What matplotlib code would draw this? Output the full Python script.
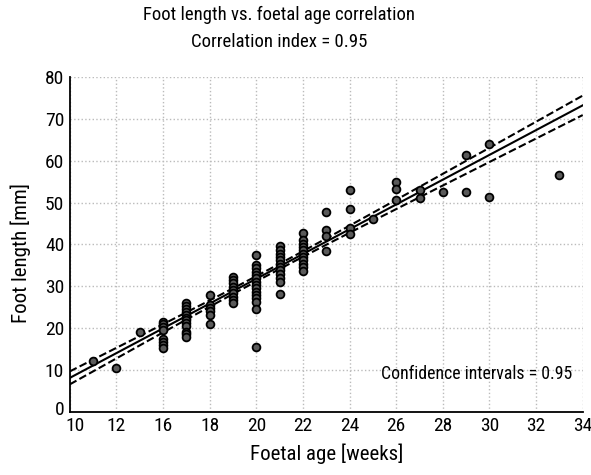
import numpy as np
import matplotlib
matplotlib.use('Agg')
import matplotlib.pyplot as plt
from matplotlib import font_manager
from matplotlib.transforms import ScaledTranslation

# foetal age (weeks, on the plot's own linear scale) and foot length (mm)
age_14 = [21.5, 21.0, 20.2, 19.5, 17.5, 16.8, 16.0, 15.3]
age_15 = [26.0, 25.3, 24.6, 23.9, 23.1, 22.5, 21.9, 21.3, 20.6, 19.1, 18.5, 17.9]
age_16 = [28.0, 25.5, 24.8, 24.0, 23.2, 21.0]
age_17 = [32.3, 31.5, 30.7, 29.9, 29.1, 28.3, 27.5, 26.7, 25.9]
age_18 = [37.5, 35.1, 34.3, 33.5, 32.7, 31.9, 31.1, 30.3, 29.5, 28.7, 27.9,
          27.1, 26.3, 24.5, 15.4]
age_19 = [39.5, 38.7, 37.8, 37.0, 36.2, 35.4, 34.6, 33.8, 33.0, 32.0, 31.0, 28.2]
age_20 = [42.8, 41.0, 40.2, 39.4, 38.6, 37.8, 37.0, 36.2, 35.4, 34.5, 33.7]
age_21 = [47.8, 43.5, 42.0, 38.4]
age_22 = [52.9, 48.4, 43.9, 42.5]
age_24 = [54.8, 53.3, 50.6]

weeks = ([11, 12, 13] + [14] * len(age_14) + [15] * len(age_15)
         + [16] * len(age_16) + [17] * len(age_17) + [18] * len(age_18)
         + [19] * len(age_19) + [20] * len(age_20) + [21] * len(age_21)
         + [22] * len(age_22) + [23] + [24] * len(age_24)
         + [25, 25, 26, 27, 27, 28, 28, 31])
foot_mm = ([12.2, 10.4, 19.0] + age_14 + age_15 + age_16 + age_17 + age_18
           + age_19 + age_20 + age_21 + age_22 + [46.1] + age_24
           + [52.9, 51.0, 52.4, 61.4, 52.4, 64.0, 51.4, 56.5])

# regression line and half-width of the band at the mean, as drawn in the original
fit_intercept = -21.5
fit_slope = 2.96
ci_at_mean = 0.62

xtick_pos = [10, 12, 14, 16, 18, 20, 22, 24, 26, 28, 30, 32]
xtick_labels = ['10', '12', '16', '18', '20', '22', '24', '26', '28', '30', '32', '34']
ytick_pos = [0, 10, 20, 30, 40, 50, 60, 70, 80]

names = {f.name for f in font_manager.fontManager.ttflist}
narrow = [f for f in ['Liberation Sans Narrow', 'Roboto Condensed', 'Open Sans Condensed']
          if f in names]
plt.rcParams['font.family'] = narrow + ['DejaVu Sans']
plt.rcParams['font.stretch'] = 'condensed'
plt.rcParams['font.size'] = 13

x = np.array(weeks, dtype=float)
y = np.array(foot_mm)
n = len(x)
sxx = np.sum((x - x.mean()) ** 2)

xl = np.linspace(10, 32, 200)
yl = fit_intercept + fit_slope * xl
hw = ci_at_mean * np.sqrt(1 + n * (xl - x.mean()) ** 2 / sxx)

fig = plt.figure(figsize=(5.91, 4.75), dpi=100)
ax = fig.add_axes([0.118, 0.133, 0.868, 0.705])

ax.plot(xl, yl, color='black', lw=1.5, zorder=3)
ax.plot(xl, yl + hw, color='black', lw=1.5, ls='--', zorder=3)
ax.plot(xl, yl - hw, color='black', lw=1.5, ls='--', zorder=3)
ax.plot(x, y, 'o', ms=5.6, mfc='#5a5a5a', mec='black', mew=1.3, zorder=4)

ax.set_xlim(10, 32)
ax.set_ylim(0, 80)
ax.set_xticks(xtick_pos)
ax.set_xticklabels(xtick_labels)
ax.set_yticks(ytick_pos)
ax.tick_params(length=0, labelsize=14, pad=4)
ax.grid(True, color='#bbbbbb', ls=':', lw=1.0)
ax.set_axisbelow(True)
for side in ['top', 'right']:
    ax.spines[side].set_visible(False)
ax.spines['left'].set_linewidth(1.3)
ax.spines['bottom'].set_linewidth(1.3)

# corner labels pushed apart a little, as in the original
lab = ax.get_xticklabels()[0]
lab.set_transform(lab.get_transform() + ScaledTranslation(4 / 72, 0, fig.dpi_scale_trans))
lab = ax.get_yticklabels()[0]
lab.set_transform(lab.get_transform() + ScaledTranslation(0, 3 / 72, fig.dpi_scale_trans))

ax.set_xlabel('Foetal age [weeks]', fontsize=15, labelpad=6)
ax.set_ylabel('Foot length [mm]', fontsize=15)
ax.yaxis.set_label_coords(-0.076, 0.475)
ax.text(0.979, 0.114, 'Confidence intervals = 0.95', transform=ax.transAxes,
        ha='right', va='center', fontsize=12.8)

fig.text(0.472, 0.968, 'Foot length vs. foetal age correlation', ha='center',
         va='center', fontsize=13.5)
fig.text(0.472, 0.911, 'Correlation index = 0.95', ha='center', va='center',
         fontsize=13.5)

fig.savefig('out.png', dpi=100)
